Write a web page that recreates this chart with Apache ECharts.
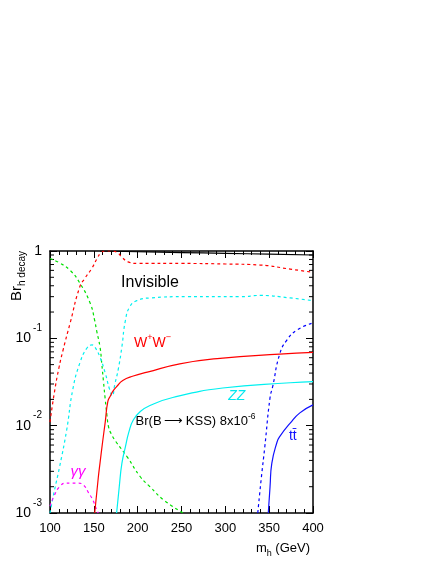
<!DOCTYPE html>
<html>
<head>
<meta charset="utf-8">
<script src="https://cdn.jsdelivr.net/npm/echarts@6/dist/echarts.min.js"></script>
<style>
  html, body { margin: 0; padding: 0; background: #fff; }
  #chart { width: 436px; height: 564px; }
</style>
</head>
<body>
<div id="chart"></div>
<script>
// branching ratios, [m_h in GeV, Br]
const invisible = [[157, 1.0], [200, 0.98], [250, 0.96], [300, 0.94], [350, 0.92], [400, 0.9]];
const bbDashed = [[100, 0.82], [111, 0.73], [123, 0.6], [134, 0.43], [146, 0.25], [151, 0.16], [153, 0.125],
  [157, 0.08], [159, 0.052], [161, 0.032], [163, 0.02], [165, 0.013], [167, 0.0095], [170, 0.008],
  [175, 0.0066], [188, 0.0044], [203, 0.0026], [214, 0.002], [230, 0.0014], [252, 0.001]];
const wwDashed = [[100, 0.011], [105, 0.024], [110, 0.045], [115, 0.074], [123, 0.15], [134, 0.39], [140, 0.49],
  [148, 0.64], [154, 0.83], [158, 0.95], [163, 1.0], [170, 1.0], [176, 0.97], [182, 0.85], [189, 0.75],
  [200, 0.72], [250, 0.72], [300, 0.71], [340, 0.69], [374, 0.62], [400, 0.57]];
const zzDashed = [[100, 0.001], [105, 0.0018], [111, 0.0034], [119, 0.0089], [126, 0.026], [134, 0.052],
  [142, 0.077], [148, 0.084], [151, 0.08], [157, 0.061], [163, 0.04], [168, 0.026], [171, 0.022],
  [174, 0.03], [178, 0.045], [182, 0.08], [186, 0.16], [191, 0.23], [199, 0.27], [214, 0.29],
  [256, 0.30], [317, 0.30], [340, 0.31], [374, 0.29], [400, 0.27]];
const ttDashed = [[337, 0.001], [341, 0.0025], [345, 0.0057], [351, 0.021], [354, 0.028], [362, 0.066],
  [370, 0.095], [382, 0.125], [400, 0.15]];
const gammaDashed = [[100, 0.0012], [105, 0.0016], [111, 0.002], [118, 0.0022], [125, 0.0022], [132, 0.0022],
  [138, 0.0021], [144, 0.0017], [149, 0.0014], [153, 0.0011], [155, 0.001]];
const wwSolid = [[151, 0.001], [155, 0.0025], [157, 0.0037], [160, 0.0065], [163, 0.011], [166, 0.019],
  [169, 0.022], [172, 0.025], [176, 0.028], [183, 0.033], [195, 0.037], [211, 0.041], [248, 0.051],
  [294, 0.059], [362, 0.066], [400, 0.069]];
const zzSolid = [[176, 0.001], [179, 0.002], [182, 0.0037], [186, 0.0057], [190, 0.0085], [195, 0.0116],
  [203, 0.0145], [214, 0.017], [240, 0.021], [297, 0.027], [374, 0.031], [400, 0.032]];
const ttSolid = [[349, 0.001], [351, 0.002], [353, 0.0037], [359, 0.0065], [362, 0.0075], [374, 0.0107],
  [385, 0.014], [400, 0.0173]];

const yMinorTicks = [0.002, 0.003, 0.004, 0.005, 0.006, 0.007, 0.008, 0.009,
  0.02, 0.03, 0.04, 0.05, 0.06, 0.07, 0.08, 0.09,
  0.2, 0.3, 0.4, 0.5, 0.6, 0.7, 0.8, 0.9];
const yTickLabels = { 1: "1", 0.1: "{b|10}{s|-1}", 0.01: "{b|10}{s|-2}", 0.001: "{b|10}{s|-3}" };

const labelText = ["Invisible", "{t|W}{s|+}{t|W}{s|\u2212}", "ZZ", "Br(B\u2009\u27f6\u2009KSS) 8x10{s|-6}", "tt\u0304", "\u03b3\u03b3"];
const labelPos = [[214, 0.44], [217, 0.093], [313, 0.022], [266, 0.0113], [377, 0.0076], [132, 0.003]];
const labelColor = ["#000", "#ff0000", "#00e8f0", "#000", "#1010ff", "#ff00ff"];
const labelSize = [16, 14, 14, 13, 14, 15];
const labelItalic = [false, false, true, false, false, true];

const FONT = "'Liberation Sans', Arial, sans-serif";

const chart = echarts.init(document.getElementById("chart"));

function curve(name, data, color, dashed) {
  return {
    name,
    type: "line",
    data,
    showSymbol: false,
    smooth: 0.5,
    lineStyle: { color, width: 1.2, type: dashed ? [3, 3] : "solid" },
    silent: true,
  };
}

const axisLine = { show: true, onZero: false, lineStyle: { color: "#000", width: 1.5 } };

chart.setOption({
  animation: false,
  backgroundColor: "#fff",
  grid: { left: 50, right: 123, top: 251, bottom: 51 },
  xAxis: [
    {
      type: "value", min: 100, max: 400, interval: 50,
      axisLine,
      axisTick: { inside: true, length: 7, lineStyle: { color: "#000" } },
      minorTick: { show: true, splitNumber: 5, length: 4, lineStyle: { color: "#000" } },
      splitLine: { show: false },
      axisLabel: { color: "#000", fontSize: 13, fontFamily: FONT, margin: 9 },
    },
    {
      type: "value", min: 100, max: 400, interval: 50, position: "top",
      axisLine,
      axisTick: { inside: true, length: 7, lineStyle: { color: "#000" } },
      minorTick: { show: true, splitNumber: 5, length: 4, lineStyle: { color: "#000" } },
      splitLine: { show: false },
      axisLabel: { show: false },
    },
  ],
  yAxis: [
    {
      type: "log", logBase: 10, min: 0.001, max: 1,
      axisLine,
      axisTick: { inside: true, length: 7, lineStyle: { color: "#000" } },
      splitLine: { show: false },
      axisLabel: {
        color: "#000", fontFamily: FONT, margin: 8,
        formatter: (v) => yTickLabels[v] || "",
        rich: {
          b: { fontSize: 14, fontFamily: FONT, color: "#000", lineHeight: 14, padding: [12, 0, 12, 0] },
          s: { fontSize: 10, fontFamily: FONT, color: "#000", lineHeight: 10, padding: [4, 0, 24, 2] },
        },
        fontSize: 14,
      },
    },
    {
      type: "log", logBase: 10, min: 0.001, max: 1, position: "right",
      axisLine,
      axisTick: { inside: true, length: 7, lineStyle: { color: "#000" } },
      splitLine: { show: false },
      axisLabel: { show: false },
    },
  ],
  graphic: [
    {
      type: "text", x: 18, y: 251, rotation: Math.PI / 2,
      style: {
        text: "{a|Br}{b|h decay}", align: "right", verticalAlign: "middle",
        rich: {
          a: { fontSize: 15, fontFamily: FONT, fill: "#000", lineHeight: 15, padding: [0, 0, 3, 0] },
          b: { fontSize: 10, fontFamily: FONT, fill: "#000", lineHeight: 10, padding: [8, 0, 0, 0] },
        },
      },
    },
    {
      type: "text", x: 310, y: 550,
      style: {
        text: "{a|m}{b|h}{a| (GeV)}", align: "right", verticalAlign: "middle",
        rich: {
          a: { fontSize: 13, fontFamily: FONT, fill: "#000", lineHeight: 13, padding: [0, 0, 4, 0] },
          b: { fontSize: 9, fontFamily: FONT, fill: "#000", lineHeight: 9, padding: [8, 0, 0, 0] },
        },
      },
    },
  ],
  series: [
    curve("Invisible", invisible, "#000", false),
    curve("bb", bbDashed, "#00e000", true),
    curve("WW dashed", wwDashed, "#ff0000", true),
    curve("ZZ dashed", zzDashed, "#00f0f0", true),
    curve("tt dashed", ttDashed, "#0000ff", true),
    curve("gamma gamma", gammaDashed, "#ff00ff", true),
    curve("W+W-", wwSolid, "#ff0000", false),
    curve("ZZ", zzSolid, "#00f0f0", false),
    curve("tt", ttSolid, "#1010ff", false),
    {
      name: "minor y ticks",
      type: "custom",
      silent: true,
      data: yMinorTicks.map((v) => [100, v]),
      renderItem(params, api) {
        const v = api.value(1);
        const l = api.coord([100, v]);
        const r = api.coord([400, v]);
        return {
          type: "group",
          children: [
            { type: "line", shape: { x1: l[0], y1: l[1], x2: l[0] + 4, y2: l[1] }, style: { stroke: "#000", lineWidth: 1 } },
            { type: "line", shape: { x1: r[0], y1: r[1], x2: r[0] - 4, y2: r[1] }, style: { stroke: "#000", lineWidth: 1 } },
          ],
        };
      },
    },
    {
      name: "labels",
      type: "custom",
      silent: true,
      data: labelPos.map((p, i) => [p[0], p[1], i]),
      renderItem(params, api) {
        const i = api.value(2);
        const p = api.coord([api.value(0), api.value(1)]);
        const size = labelSize[i];
        const style = labelItalic[i] ? "italic" : "normal";
        return {
          type: "text",
          x: p[0],
          y: p[1],
          style: {
            text: labelText[i],
            fill: labelColor[i],
            font: `${style} ${size}px ${FONT}`,
            align: "center",
            verticalAlign: "middle",
            rich: {
              t: { fontSize: size, fontFamily: FONT, fill: labelColor[i], lineHeight: size, padding: [4, 0, 0, 0] },
              s: { fontSize: size * 0.65, fontFamily: FONT, fill: labelColor[i], lineHeight: 8, padding: [0, 0, 8, 0] },
            },
          },
        };
      },
    },
  ],
});
</script>
</body>
</html>
